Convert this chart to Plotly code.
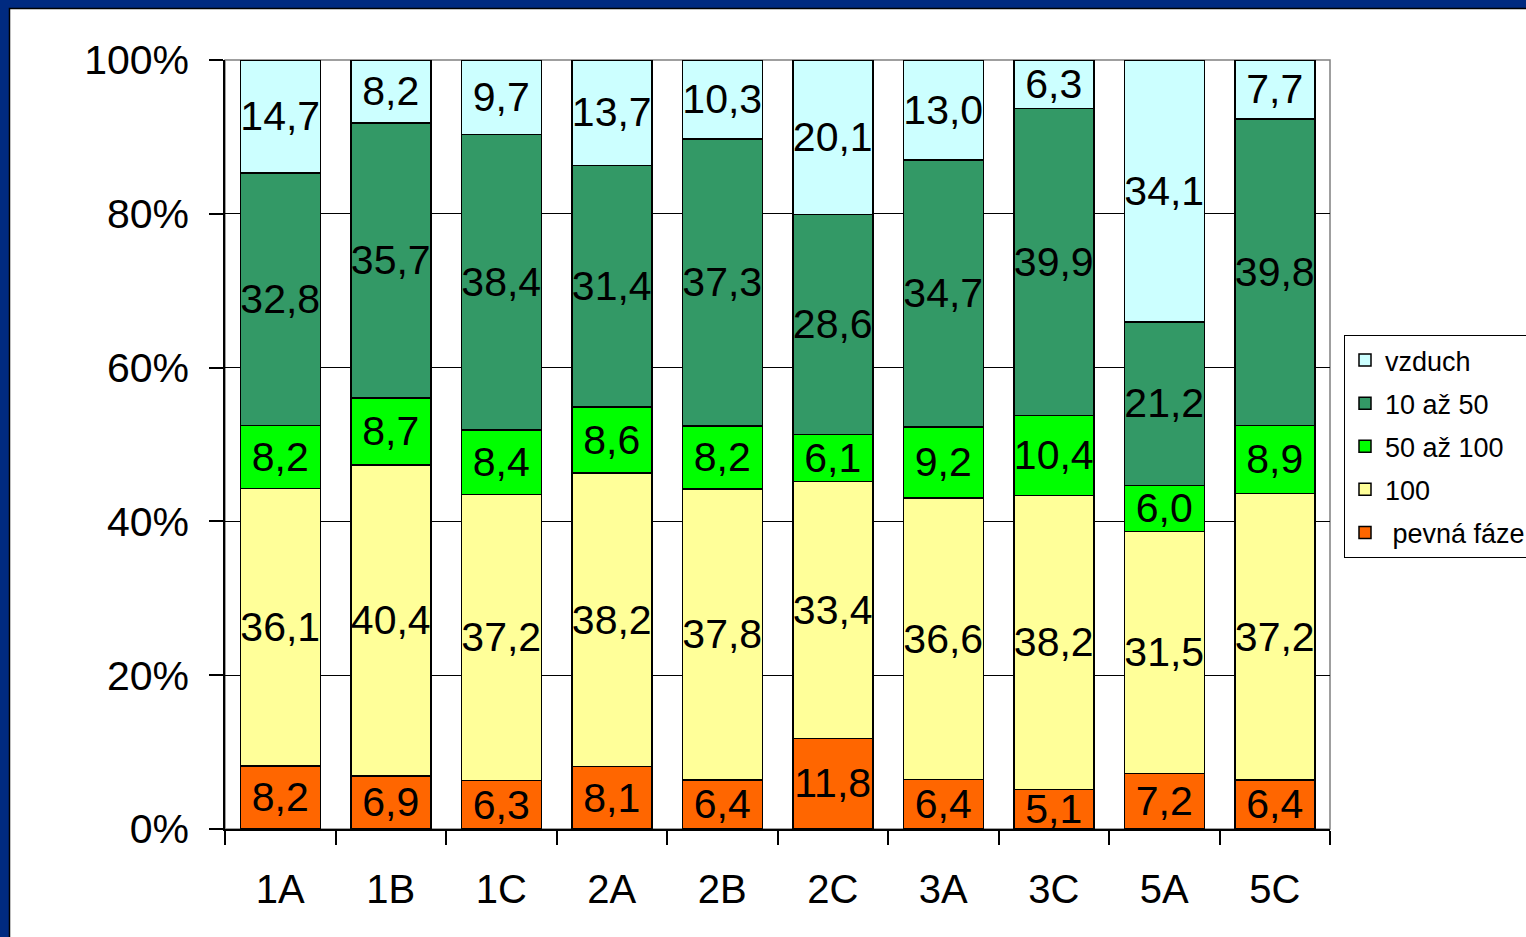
import plotly.graph_objects as go

categories = ["1A", "1B", "1C", "2A", "2B", "2C", "3A", "3C", "5A", "5C"]
pevna_faze = [8.2, 6.9, 6.3, 8.1, 6.4, 11.8, 6.4, 5.1, 7.2, 6.4]
s100 = [36.1, 40.4, 37.2, 38.2, 37.8, 33.4, 36.6, 38.2, 31.5, 37.2]
s50_100 = [8.2, 8.7, 8.4, 8.6, 8.2, 6.1, 9.2, 10.4, 6.0, 8.9]
s10_50 = [32.8, 35.7, 38.4, 31.4, 37.3, 28.6, 34.7, 39.9, 21.2, 39.8]
vzduch = [14.7, 8.2, 9.7, 13.7, 10.3, 20.1, 13.0, 6.3, 34.1, 7.7]
y_ticks = [0, 20, 40, 60, 80, 100]
y_tick_labels = ["0%", "20%", "40%", "60%", "80%", "100%"]

series = [
    (" pevná fáze", pevna_faze, "#FF6600"),
    ("100", s100, "#FFFF99"),
    ("50 až 100", s50_100, "#00FF00"),
    ("10 až 50", s10_50, "#339966"),
    ("vzduch", vzduch, "#CCFFFF"),
]

FONT = "Liberation Sans, Arial, sans-serif"

# plot area in pixels: x 225..1330, y 60..829
PW, PH = 1105, 769
def px(x):
    return (x - 225) / PW
def py(y):
    return (829 - y) / PH

LABEL_DROP = 3.5 / PH * 100  # small downward nudge of value labels (in % units)

totals = [sum(s[1][j] for s in series) for j in range(len(categories))]

fig = go.Figure()
cum = [0.0] * len(categories)
label_traces = []
n = len(series)
for i, (name, vals, col) in enumerate(series):
    fig.add_trace(go.Bar(
        x=categories, y=vals, name=name, legendgroup=f"g{i}", legendrank=n - i,
        marker=dict(color=col, line=dict(color="#000000", width=1.5)),
        hoverinfo="x+y+name",
    ))
    centers = [(cum[j] + vals[j] / 2) / totals[j] * 100 - LABEL_DROP for j in range(len(categories))]
    label_traces.append(go.Scatter(
        x=categories, y=centers, mode="text",
        text=[f"{v:.1f}".replace(".", ",") for v in vals],
        textposition="middle center",
        textfont=dict(family=FONT, size=41, color="#000000"),
        showlegend=False, hoverinfo="skip", cliponaxis=False,
    ))
    cum = [cum[j] + vals[j] for j in range(len(categories))]
for t in label_traces:
    fig.add_trace(t)

fig.update_layout(
    width=1526, height=937,
    margin=dict(l=225, r=196, t=60, b=108, pad=0, autoexpand=False),
    barmode="stack", barnorm="percent", bargap=0.276,
    paper_bgcolor="#002A80", plot_bgcolor="rgba(0,0,0,0)",
    font=dict(family=FONT, color="#000000"),
    legend=dict(
        xref="container", yref="container",
        x=1344 / 1526, y=1 - 335 / 937, xanchor="left", yanchor="top",
        traceorder="grouped", tracegroupgap=5,
        font=dict(family=FONT, size=27, color="#000000"),
        bgcolor="#FFFFFF", bordercolor="#000000", borderwidth=1,
    ),
    shapes=[
        dict(type="rect", xref="paper", yref="paper", layer="below",
             x0=px(9.5), x1=px(1540), y0=py(950), y1=py(8.5),
             fillcolor="#FFFFFF", line=dict(color="#000000", width=1.5)),
        dict(type="rect", xref="paper", yref="paper", layer="below",
             x0=0, x1=1, y0=0, y1=1,
             line=dict(color="#808080", width=1.5)),
    ],
    xaxis=dict(
        showline=True, linecolor="#000000", linewidth=1.5,
        ticks="outside", tickson="boundaries", ticklen=14, tickcolor="#000000", tickwidth=1.5,
        tickfont=dict(family=FONT, size=40, color="#000000"),
        ticklabelstandoff=24, showgrid=False,
    ),
    yaxis=dict(
        range=[0, 100], tickmode="array", tickvals=y_ticks, ticktext=y_tick_labels,
        showline=True, linecolor="#000000", linewidth=1.5,
        ticks="outside", ticklen=14, tickcolor="#000000", tickwidth=1.5,
        tickfont=dict(family=FONT, size=41, color="#000000"),
        ticklabelstandoff=12,
        showgrid=True, gridcolor="#000000", gridwidth=1, zeroline=False,
    ),
)

fig.write_html("out.html", config={"displayModeBar": False},
               post_script="document.body.style.margin='0';document.body.style.overflow='hidden';")
